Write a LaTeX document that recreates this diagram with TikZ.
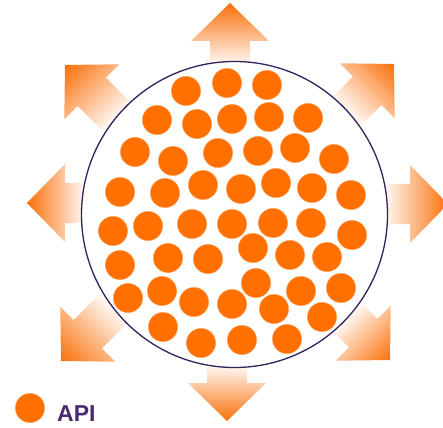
\documentclass[tikz,border=0pt]{standalone}
\usepackage{fontspec}
\newfontfamily\labelfont{Liberation Sans}
\definecolor{apiorange}{RGB}{255,112,0}
\definecolor{arroworange}{RGB}{250,112,10}
\definecolor{circpurple}{RGB}{48,34,94}
\definecolor{labelpurple}{RGB}{72,42,112}
\newcommand\outarrow[4]{%
  \begin{scope}[transform canvas={shift={(#1,#2)},rotate=#3}]
    \shade[arrowfill] (0,0) -- (-38,39) -- (-38,20) -- (-#4,20) -- (-#4,-20) -- (-38,-20) -- (-38,-39) -- cycle;
  \end{scope}}
\begin{document}
\begin{tikzpicture}[x=1pt,y=-1pt,
  arrowfill/.style={left color=white, right color=arroworange},
  apidot/.style={fill=apiorange, draw=apiorange!70!white, line width=0.4pt},
  bigcircle/.style={draw=circpurple, line width=1.3pt, fill=white}]
\useasboundingbox (0,0) rectangle (443,427);
\clip (0,0) rectangle (443,427);
% arrows
\outarrow{230}{3}{90}{64}
\outarrow{227}{421}{270}{58}
\outarrow{27}{203}{180}{60}
\outarrow{448}{204}{0}{66}
\outarrow{65}{65}{135}{78}
\outarrow{394}{64}{45}{70}
\outarrow{61}{361}{225}{78}
\outarrow{390}{360}{315}{64}
% circle
\draw[bigcircle] (234.5,214.5) circle[radius=153pt];
% dots
\foreach \px/\py in {186/91,227/83,267/85,
  157/120,197/124,232/119,269/117,308/118,
  135/152,173/161,218/153,258/151,295/148,334/159,
  120/192,165/193,203/185,241/189,276/183,312/188,351/195,
  113/231,148/226,192/224,232/224,273/223,311/223,352/235,
  120/265,168/258,208/259,253/248,290/255,327/257,
  128/298,162/291,194/302,232/304,256/283,301/291,341/288,274/309,322/317,
  163/327,201/343,242/340,287/339}
  \fill[apidot] (\px,\py) circle[radius=14.6pt];
% legend
\fill[apidot] (30,408) circle[radius=14.6pt];
\node[anchor=base west, inner sep=0pt, text=labelpurple, font=\labelfont\bfseries\fontsize{23}{23}\selectfont] (apilabel) at (57,421) {API};
\end{tikzpicture}
\end{document}
